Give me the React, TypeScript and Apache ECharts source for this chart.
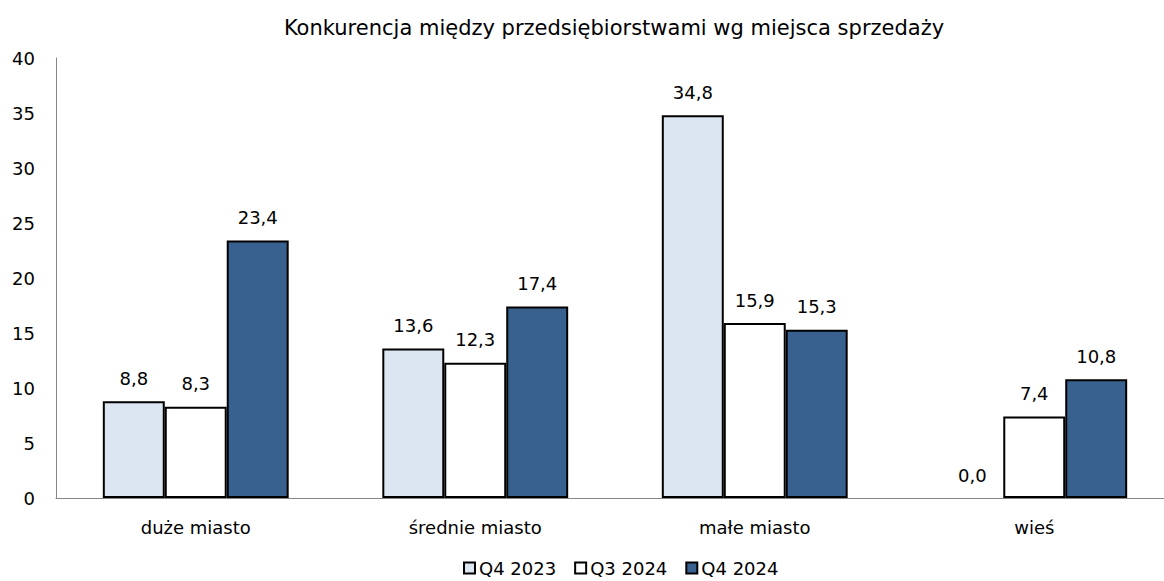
import React, { useEffect, useRef } from "react";
import * as echarts from "echarts";

const categories = ["duże miasto", "średnie miasto", "małe miasto", "wieś"];
const seriesNames = ["Q4 2023", "Q3 2024", "Q4 2024"];
const q4_2023 = [8.8, 13.6, 34.8, 0.0];
const q3_2024 = [8.3, 12.3, 15.9, 7.4];
const q4_2024 = [23.4, 17.4, 15.3, 10.8];
const colors = ["#DCE6F2", "#FFFFFF", "#38618F"];
const titleText = "Konkurencja między przedsiębiorstwami wg miejsca sprzedaży";

const FONT = "DejaVu Sans";

export default function App() {
  const ref = useRef<HTMLDivElement>(null);
  useEffect(() => {
    if (!ref.current) return;
    const chart = echarts.init(ref.current, undefined, { renderer: "svg" });
    const allData = [q4_2023, q3_2024, q4_2024];
    chart.setOption({
      animation: false,
      backgroundColor: "#ffffff",
      textStyle: { fontFamily: FONT, color: "#000" },
      title: {
        text: titleText,
        left: 609,
        textAlign: "center",
        top: 12,
        textStyle: { fontFamily: FONT, fontSize: 21, fontWeight: "normal", color: "#000" },
      },
      legend: {
        left: 458,
        top: 554,
        icon: "rect",
        itemWidth: 11,
        itemHeight: 11,
        itemGap: 18,
        textStyle: { fontFamily: FONT, fontSize: 18, color: "#000", padding: [0, 0, 0, -1] },
        data: seriesNames,
      },
      grid: {
        left: 56,
        right: -10,
        top: 58,
        bottom: 83,
        containLabel: false,
        outerBoundsMode: "none",
      },
      xAxis: {
        type: "category",
        data: categories,
        axisLine: { show: true, lineStyle: { color: "#868686", width: 1 } },
        axisTick: { show: false },
        axisLabel: { color: "#000", fontSize: 18, fontFamily: FONT, margin: 20 },
      },
      yAxis: {
        type: "value",
        min: 0,
        max: 40,
        interval: 5,
        axisLine: { show: true, lineStyle: { color: "#868686", width: 1 } },
        axisTick: { show: false },
        splitLine: { show: false },
        axisLabel: { color: "#000", fontSize: 18, fontFamily: FONT, margin: 21 },
      },
      series: seriesNames.map((name, i) => ({
        name,
        type: "bar",
        barGap: "0%",
        barCategoryGap: "33.5%",
        itemStyle: { color: colors[i], borderColor: "#000", borderWidth: 2 },
        data: allData[i].map((v) =>
          v === 0 ? { value: v, itemStyle: { borderWidth: 0 } } : v
        ),
        label: {
          show: true,
          position: "top",
          distance: 14,
          color: "#000",
          fontSize: 18,
          fontFamily: FONT,
          formatter: (p: any) => Number(p.value).toFixed(1).replace(".", ","),
        },
      })),
    });
    return () => chart.dispose();
  }, []);
  return (
    <div
      ref={ref}
      style={{ position: "fixed", left: 0, top: 0, width: 1164, height: 581 }}
    />
  );
}
